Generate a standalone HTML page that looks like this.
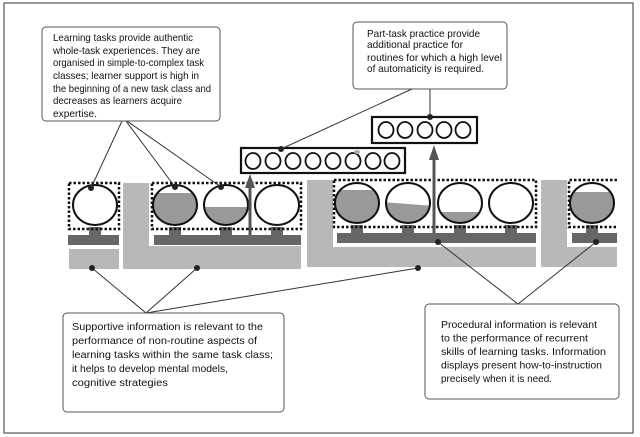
<!DOCTYPE html>
<html><head><meta charset="utf-8"><style>
html,body{margin:0;padding:0;background:#fff;width:640px;height:437px;overflow:hidden}
svg{display:block}
text{font-family:"Liberation Sans",sans-serif;font-size:10.5px;fill:#111}
</style></head><body>
<svg width="640" height="437" viewBox="0 0 640 437" xmlns="http://www.w3.org/2000/svg">
<defs>
<clipPath id="c175"><ellipse cx="175" cy="205" rx="22" ry="20"/></clipPath>
<clipPath id="c226"><ellipse cx="226" cy="205" rx="22" ry="20"/></clipPath>
<clipPath id="c357"><ellipse cx="357" cy="203" rx="22" ry="20"/></clipPath>
<clipPath id="c408"><ellipse cx="408" cy="203" rx="22" ry="20"/></clipPath>
<clipPath id="c460"><ellipse cx="460" cy="203" rx="22" ry="20"/></clipPath>
<clipPath id="c592"><ellipse cx="592" cy="203" rx="22" ry="20"/></clipPath>
</defs>
<rect x="4" y="3" width="629" height="430" fill="none" stroke="#555" stroke-width="1.2"/>

<!-- Section 1 -->
<rect x="69" y="249" width="50" height="20" fill="#b8b8b8"/>
<rect x="68" y="235" width="51" height="10" fill="#666"/>
<rect x="89" y="227" width="12" height="9" fill="#666"/>
<rect x="69" y="183" width="50" height="46" fill="none" stroke="#111" stroke-width="2.5" stroke-dasharray="2.5 2"/>
<ellipse cx="95" cy="205" rx="22" ry="20" fill="#fff" stroke="#111" stroke-width="2"/>

<!-- Section 2 -->
<path d="M123 183 H149 V246 H301 V269 H123 Z" fill="#b8b8b8"/>
<rect x="154" y="235" width="147" height="10" fill="#666"/>
<rect x="169" y="227" width="12" height="9" fill="#666"/>
<rect x="220" y="227" width="12" height="9" fill="#666"/>
<rect x="271" y="227" width="12" height="9" fill="#666"/>
<rect x="152" y="183" width="149" height="46" fill="none" stroke="#111" stroke-width="2.5" stroke-dasharray="2.5 2"/>
<ellipse cx="175" cy="205" rx="22" ry="20" fill="#fff"/>
<rect x="150" y="193" width="50" height="40" fill="#999" clip-path="url(#c175)"/>
<ellipse cx="175" cy="205" rx="22" ry="20" fill="none" stroke="#111" stroke-width="2"/>
<ellipse cx="226" cy="205" rx="22" ry="20" fill="#fff"/>
<rect x="200" y="207" width="50" height="30" fill="#999" clip-path="url(#c226)"/>
<ellipse cx="226" cy="205" rx="22" ry="20" fill="none" stroke="#111" stroke-width="2"/>
<ellipse cx="277" cy="205" rx="22" ry="20" fill="#fff" stroke="#111" stroke-width="2"/>
<line x1="250" y1="235" x2="250" y2="186" stroke="#555" stroke-width="3"/>
<polygon points="245,188 255,188 250,174" fill="#555"/>

<!-- Section 3 -->
<path d="M307 180 H333 V247 H536 V267 H307 Z" fill="#b8b8b8"/>
<rect x="337" y="233" width="199" height="10" fill="#666"/>
<rect x="351" y="225" width="12" height="9" fill="#666"/>
<rect x="402" y="225" width="12" height="9" fill="#666"/>
<rect x="454" y="225" width="12" height="9" fill="#666"/>
<rect x="505" y="225" width="12" height="9" fill="#666"/>
<rect x="334" y="180" width="202" height="47" fill="none" stroke="#111" stroke-width="2.5" stroke-dasharray="2.5 2"/>
<ellipse cx="357" cy="203" rx="22" ry="20" fill="#fff"/>
<rect x="330" y="190" width="55" height="40" fill="#999" clip-path="url(#c357)"/>
<ellipse cx="357" cy="203" rx="22" ry="20" fill="none" stroke="#111" stroke-width="2"/>
<ellipse cx="408" cy="203" rx="22" ry="20" fill="#fff"/>
<polygon points="380,202 435,206 435,230 380,230" fill="#999" clip-path="url(#c408)"/>
<ellipse cx="408" cy="203" rx="22" ry="20" fill="none" stroke="#111" stroke-width="2"/>
<ellipse cx="460" cy="203" rx="22" ry="20" fill="#fff"/>
<rect x="435" y="212" width="55" height="20" fill="#999" clip-path="url(#c460)"/>
<ellipse cx="460" cy="203" rx="22" ry="20" fill="none" stroke="#111" stroke-width="2"/>
<ellipse cx="511" cy="203" rx="22" ry="20" fill="#fff" stroke="#111" stroke-width="2"/>
<line x1="434" y1="233" x2="434" y2="158" stroke="#555" stroke-width="3"/>
<polygon points="429,160 439,160 434,145" fill="#555"/>

<!-- Section 4 -->
<path d="M541 180 H567 V247 H617 V267 H541 Z" fill="#b8b8b8"/>
<rect x="572" y="233" width="45" height="10" fill="#666"/>
<rect x="586" y="225" width="12" height="9" fill="#666"/>
<path d="M617 180 H569 V227 H617" fill="none" stroke="#111" stroke-width="2.5" stroke-dasharray="2.5 2"/>
<ellipse cx="592" cy="203" rx="22" ry="20" fill="#fff"/>
<rect x="565" y="192" width="55" height="40" fill="#999" clip-path="url(#c592)"/>
<ellipse cx="592" cy="203" rx="22" ry="20" fill="none" stroke="#111" stroke-width="2"/>

<!-- part-task boxes -->
<rect x="241" y="148" width="164" height="25" fill="#fff" stroke="#111" stroke-width="2.2"/>
<g fill="none" stroke="#111" stroke-width="1.8">
<ellipse cx="253" cy="161" rx="7.5" ry="8"/><ellipse cx="273" cy="161" rx="7.5" ry="8"/>
<ellipse cx="293" cy="161" rx="7.5" ry="8"/><ellipse cx="313" cy="161" rx="7.5" ry="8"/>
<ellipse cx="333" cy="161" rx="7.5" ry="8"/><ellipse cx="353" cy="161" rx="7.5" ry="8"/>
<ellipse cx="373" cy="161" rx="7.5" ry="8"/><ellipse cx="392" cy="161" rx="7.5" ry="8"/>
</g>
<ellipse cx="357" cy="152" rx="3" ry="2" fill="#aaa"/>
<rect x="372" y="117" width="105" height="26" fill="#fff" stroke="#111" stroke-width="2.2"/>
<g fill="none" stroke="#111" stroke-width="1.8">
<ellipse cx="386" cy="130" rx="7.5" ry="8"/><ellipse cx="405" cy="130" rx="7.5" ry="8"/>
<ellipse cx="425" cy="130" rx="7.5" ry="8"/><ellipse cx="444" cy="130" rx="7.5" ry="8"/>
<ellipse cx="463" cy="130" rx="7.5" ry="8"/>
</g>

<!-- connector lines -->
<g stroke="#333" stroke-width="1" fill="none">
<line x1="122" y1="121" x2="91" y2="188"/>
<line x1="126" y1="121" x2="175" y2="187"/>
<line x1="127" y1="121" x2="221" y2="187"/>
<line x1="412" y1="89" x2="281" y2="149"/>
<line x1="430" y1="89" x2="430" y2="117"/>
<line x1="92" y1="268" x2="146" y2="313"/>
<line x1="197" y1="268" x2="146" y2="313"/>
<line x1="418" y1="268" x2="146" y2="313"/>
<line x1="438" y1="242" x2="518" y2="304"/>
<line x1="596" y1="242" x2="518" y2="304"/>
</g>

<!-- dots -->
<g fill="#222">
<circle cx="91" cy="188" r="3"/><circle cx="175" cy="187" r="3"/><circle cx="221" cy="187" r="3"/>
<circle cx="281" cy="149" r="3"/><circle cx="430" cy="117" r="3"/>
<circle cx="92" cy="268" r="3"/><circle cx="197" cy="268" r="3"/><circle cx="418" cy="268" r="3"/>
<circle cx="438" cy="242" r="3"/><circle cx="596" cy="242" r="3"/>
</g>

<!-- Text boxes -->
<rect x="42" y="27" width="178" height="94" rx="4" fill="#fff" stroke="#555" stroke-width="1"/>
<text x="53" y="41" textLength="140" lengthAdjust="spacingAndGlyphs">Learning tasks provide authentic</text>
<text x="53" y="54" textLength="147" lengthAdjust="spacingAndGlyphs">whole-task experiences.  They are</text>
<text x="53" y="66" textLength="151" lengthAdjust="spacingAndGlyphs">organised in simple-to-complex task</text>
<text x="53" y="79" textLength="146" lengthAdjust="spacingAndGlyphs">classes; learner support is high in</text>
<text x="53" y="92" textLength="158" lengthAdjust="spacingAndGlyphs">the beginning of a new task class and</text>
<text x="53" y="104" textLength="129" lengthAdjust="spacingAndGlyphs">decreases as learners acquire</text>
<text x="53" y="117" textLength="44" lengthAdjust="spacingAndGlyphs">expertise.</text>

<rect x="353" y="22" width="154" height="67" rx="4" fill="#fff" stroke="#555" stroke-width="1"/>
<text x="367" y="37" textLength="113" lengthAdjust="spacingAndGlyphs">Part-task practice provide</text>
<text x="367" y="48" textLength="96" lengthAdjust="spacingAndGlyphs">additional practice for</text>
<text x="367" y="61" textLength="135" lengthAdjust="spacingAndGlyphs">routines for which a high level</text>
<text x="367" y="72" textLength="117" lengthAdjust="spacingAndGlyphs">of automaticity is required.</text>

<rect x="63" y="313" width="221" height="99" rx="4" fill="#fff" stroke="#555" stroke-width="1"/>
<text x="72" y="330" textLength="191" lengthAdjust="spacingAndGlyphs">Supportive information is relevant to the</text>
<text x="72" y="344" textLength="185" lengthAdjust="spacingAndGlyphs">performance of non-routine aspects of</text>
<text x="72" y="358" textLength="201" lengthAdjust="spacingAndGlyphs">learning tasks within the same task class;</text>
<text x="72" y="372" textLength="156" lengthAdjust="spacingAndGlyphs">it helps to develop mental models,</text>
<text x="72" y="386" textLength="96" lengthAdjust="spacingAndGlyphs">cognitive strategies</text>

<rect x="425" y="304" width="194" height="95" rx="4" fill="#fff" stroke="#555" stroke-width="1"/>
<text x="441" y="328" textLength="156" lengthAdjust="spacingAndGlyphs">Procedural information is relevant</text>
<text x="441" y="341.5" textLength="147" lengthAdjust="spacingAndGlyphs">to the performance of recurrent</text>
<text x="441" y="355" textLength="165" lengthAdjust="spacingAndGlyphs">skills of learning tasks.  Information</text>
<text x="441" y="368.5" textLength="161" lengthAdjust="spacingAndGlyphs">displays present how-to-instruction</text>
<text x="441" y="382" textLength="111" lengthAdjust="spacingAndGlyphs">precisely when it is need.</text>
</svg>
</body></html>
